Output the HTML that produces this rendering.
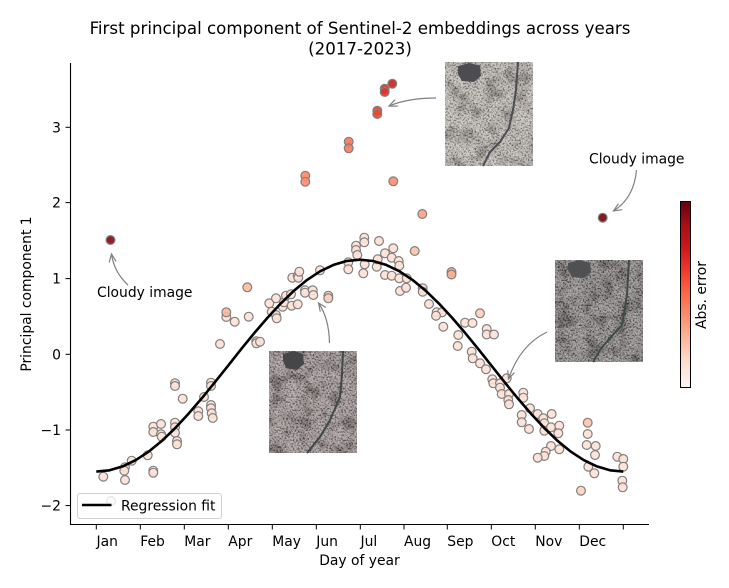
<!DOCTYPE html>
<html><head><meta charset="utf-8"><style>
html,body{margin:0;padding:0;background:#fff;}
svg{display:block;}
text{font-family:"DejaVu Sans","Liberation Sans",sans-serif;fill:#000;}
</style></head><body>
<svg width="729" height="588" viewBox="0 0 729 588" xmlns="http://www.w3.org/2000/svg">
<defs>
<linearGradient id="reds" x1="0" y1="1" x2="0" y2="0">
<stop offset="0" stop-color="#fff5f0"/><stop offset="0.125" stop-color="#fee0d2"/><stop offset="0.25" stop-color="#fcbba1"/><stop offset="0.375" stop-color="#fc9272"/><stop offset="0.5" stop-color="#fb6a4a"/><stop offset="0.625" stop-color="#ef3b2c"/><stop offset="0.75" stop-color="#cb181d"/><stop offset="0.875" stop-color="#a50f15"/><stop offset="1" stop-color="#67000d"/>
</linearGradient>
<filter id="tex" x="0" y="0" width="1" height="1" filterUnits="objectBoundingBox">
<feTurbulence type="fractalNoise" baseFrequency="0.6" numOctaves="3" seed="7"/>
<feColorMatrix type="matrix" values="3 0 0 0 -1  3 0 0 0 -1  3 0 0 0 -1  0 0 0 0 0.35"/>
</filter>
<filter id="tex2" x="0" y="0" width="1" height="1" filterUnits="objectBoundingBox">
<feTurbulence type="fractalNoise" baseFrequency="0.07" numOctaves="2" seed="3"/>
<feColorMatrix type="matrix" values="3 0 0 0 -1  3 0 0 0 -1  3 0 0 0 -1  0 0 0 0 0.25"/>
</filter>
<marker id="ah" viewBox="-10 -6 12 12" refX="0" refY="0" markerWidth="12" markerHeight="12" markerUnits="userSpaceOnUse" orient="auto">
<path d="M-8,-3.5 L0,0 L-8,3.5" fill="none" stroke="#808080" stroke-width="1.2"/>
</marker>
</defs>

<!-- title -->
<text x="360" y="34" font-size="16.67" text-anchor="middle">First principal component of Sentinel-2 embeddings across years</text>
<text x="360" y="54.5" font-size="16.67" text-anchor="middle">(2017-2023)</text>

<!-- scatter points -->
<g stroke="#808080" stroke-width="1.2" fill-opacity="0.92">
<g fill="#fee2d5">
<circle cx="111" cy="501" r="4.4"/>
<circle cx="103.3" cy="476.7" r="4.4"/>
<circle cx="125" cy="467.3" r="4.4"/><circle cx="124.3" cy="470.7" r="4.4"/><circle cx="125" cy="480" r="4.4"/>
<circle cx="131.7" cy="460.7" r="4.4"/><circle cx="147.7" cy="455.3" r="4.4"/>
<circle cx="153.3" cy="470.7" r="4.4"/><circle cx="153.3" cy="472.7" r="4.4"/>
<circle cx="153.3" cy="426.7" r="4.4"/><circle cx="153.3" cy="432" r="4.4"/><circle cx="161" cy="424" r="4.4"/><circle cx="161" cy="434.3" r="4.4"/><circle cx="161.7" cy="436.7" r="4.4"/>
<circle cx="175" cy="422.7" r="4.4"/><circle cx="175" cy="427.3" r="4.4"/><circle cx="175" cy="432.7" r="4.4"/><circle cx="177" cy="441" r="4.4"/><circle cx="177" cy="444.3" r="4.4"/>
<circle cx="175" cy="383.3" r="4.4"/><circle cx="175" cy="386" r="4.4"/>
<circle cx="182.7" cy="398.7" r="4.4"/>
<circle cx="198.3" cy="411.3" r="4.4"/><circle cx="198.3" cy="416" r="4.4"/>
<circle cx="204" cy="397" r="4.4"/>
<circle cx="211" cy="382.7" r="4.4"/><circle cx="211" cy="386" r="4.4"/>
<circle cx="211" cy="405" r="4.4"/><circle cx="211" cy="408.3" r="4.4"/><circle cx="211.7" cy="413.3" r="4.4"/><circle cx="212.7" cy="418" r="4.4"/>
<circle cx="220" cy="344" r="4.4"/>
<circle cx="226.3" cy="317" r="4.4"/><circle cx="234.7" cy="321.7" r="4.4"/><circle cx="248.7" cy="316.7" r="4.4"/>
<circle cx="256.3" cy="341.3" r="4.4"/><circle cx="256.3" cy="343.3" r="4.4"/>
<circle cx="260" cy="341.7" r="4.4"/>
<circle cx="269.3" cy="303.3" r="4.4"/><circle cx="271.7" cy="311.7" r="4.4"/><circle cx="276" cy="298.3" r="4.4"/><circle cx="276" cy="315" r="4.4"/><circle cx="276.7" cy="318.3" r="4.4"/><circle cx="282.7" cy="306.7" r="4.4"/><circle cx="284" cy="302.3" r="4.4"/><circle cx="286" cy="295.7" r="4.4"/><circle cx="291" cy="294.3" r="4.4"/><circle cx="291.7" cy="305.7" r="4.4"/><circle cx="297.7" cy="304.3" r="4.4"/>
<circle cx="292.3" cy="277.7" r="4.4"/><circle cx="297.7" cy="275.7" r="4.4"/><circle cx="298.3" cy="277.7" r="4.4"/><circle cx="299.3" cy="271.7" r="4.4"/>
<circle cx="305" cy="290.3" r="4.4"/><circle cx="305" cy="292.7" r="4.4"/><circle cx="312.7" cy="290.3" r="4.4"/><circle cx="313.3" cy="295" r="4.4"/>
<circle cx="320" cy="270.3" r="4.4"/>
<circle cx="348.3" cy="262.3" r="4.4"/><circle cx="348.3" cy="269.3" r="4.4"/>
<circle cx="356" cy="245.7" r="4.4"/><circle cx="356" cy="250" r="4.4"/><circle cx="357.3" cy="255" r="4.4"/>
<circle cx="364.3" cy="237.7" r="4.4"/><circle cx="364.3" cy="242.3" r="4.4"/>
<circle cx="364.7" cy="264.3" r="4.4"/><circle cx="363.3" cy="273.3" r="4.4"/>
<circle cx="376.7" cy="266.7" r="4.4"/><circle cx="377.7" cy="259.3" r="4.4"/>
<circle cx="379" cy="241" r="4.4"/>
<circle cx="385" cy="253.3" r="4.4"/><circle cx="385" cy="275" r="4.4"/>
<circle cx="391.7" cy="257.7" r="4.4"/><circle cx="391.7" cy="275.7" r="4.4"/>
<circle cx="393.3" cy="248.3" r="4.4"/>
<circle cx="398.7" cy="261" r="4.4"/><circle cx="399.3" cy="265.7" r="4.4"/><circle cx="399.3" cy="278.3" r="4.4"/>
<circle cx="400" cy="291" r="4.4"/><circle cx="406" cy="287.7" r="4.4"/><circle cx="406.7" cy="278.3" r="4.4"/>
<circle cx="422.7" cy="288.3" r="4.4"/><circle cx="422.7" cy="291.7" r="4.4"/>
<circle cx="429" cy="304" r="4.4"/>
<circle cx="436.7" cy="312.3" r="4.4"/><circle cx="442" cy="312.3" r="4.4"/><circle cx="436" cy="315.7" r="4.4"/>
<circle cx="443.3" cy="326.7" r="4.4"/>
<circle cx="458.3" cy="335" r="4.4"/><circle cx="457.7" cy="346" r="4.4"/>
<circle cx="465" cy="322.7" r="4.4"/><circle cx="472.5" cy="323" r="4.4"/>
<circle cx="486.7" cy="329" r="4.4"/><circle cx="486.7" cy="334.5" r="4.4"/><circle cx="494" cy="334.5" r="4.4"/>
<circle cx="471.7" cy="351.7" r="4.4"/><circle cx="472.7" cy="358.3" r="4.4"/><circle cx="480" cy="363.3" r="4.4"/><circle cx="486" cy="369.3" r="4.4"/>
<circle cx="492.3" cy="379.3" r="4.4"/><circle cx="493.3" cy="383.3" r="4.4"/><circle cx="500" cy="383.3" r="4.4"/><circle cx="506.7" cy="378.3" r="4.4"/>
<circle cx="500" cy="387.7" r="4.4"/><circle cx="501.7" cy="394" r="4.4"/><circle cx="509" cy="394" r="4.4"/><circle cx="508.3" cy="400" r="4.4"/><circle cx="509" cy="404.3" r="4.4"/>
<circle cx="523.3" cy="392.7" r="4.4"/><circle cx="523.3" cy="397.7" r="4.4"/>
<circle cx="530" cy="408.3" r="4.4"/><circle cx="521.7" cy="415" r="4.4"/><circle cx="521.7" cy="422.3" r="4.4"/><circle cx="529" cy="429" r="4.4"/>
<circle cx="537.7" cy="414" r="4.4"/><circle cx="543.3" cy="418.3" r="4.4"/><circle cx="551.7" cy="414" r="4.4"/><circle cx="544.3" cy="423.3" r="4.4"/><circle cx="544.3" cy="430.7" r="4.4"/><circle cx="551" cy="427.3" r="4.4"/><circle cx="559.3" cy="425.7" r="4.4"/><circle cx="558.3" cy="433.3" r="4.4"/>
<circle cx="551" cy="446" r="4.4"/><circle cx="559.3" cy="449.3" r="4.4"/><circle cx="545.7" cy="451.7" r="4.4"/><circle cx="544.3" cy="456" r="4.4"/><circle cx="537.7" cy="457.7" r="4.4"/>
<circle cx="587.7" cy="434" r="4.4"/><circle cx="586.7" cy="445" r="4.4"/><circle cx="595.7" cy="446" r="4.4"/><circle cx="595" cy="455" r="4.4"/>
<circle cx="588.3" cy="466.7" r="4.4"/><circle cx="594.3" cy="473.3" r="4.4"/>
<circle cx="617.3" cy="456.7" r="4.4"/><circle cx="623.3" cy="459" r="4.4"/><circle cx="623.3" cy="466.7" r="4.4"/><circle cx="622.3" cy="480.7" r="4.4"/><circle cx="622.7" cy="487.3" r="4.4"/>
</g>
<circle cx="581" cy="490.7" r="4.4" fill="#fdd3c1"/>
<circle cx="480" cy="313.3" r="4.4" fill="#fdcfbb"/>
<circle cx="226.3" cy="312.3" r="4.4" fill="#fcb69b"/>
<circle cx="247.3" cy="287.3" r="4.4" fill="#fcbaa0"/>
<circle cx="328.3" cy="295.7" r="4.4" fill="#fcc9b4"/><circle cx="328.3" cy="298.3" r="4.4" fill="#fdd0bd"/>
<circle cx="414.7" cy="251" r="4.4" fill="#fcc1a8"/>
<circle cx="451.5" cy="272" r="4.4" fill="#fcab8f"/><circle cx="451.5" cy="274.5" r="4.4" fill="#fcae92"/>
<circle cx="587.7" cy="422.7" r="4.4" fill="#fcc4ac"/>
<circle cx="422.3" cy="214" r="4.4" fill="#fca486"/>
<circle cx="393.3" cy="181.3" r="4.4" fill="#fc8e6f"/>
<circle cx="305.3" cy="175.7" r="4.4" fill="#fc8a6a"/><circle cx="305.3" cy="181.7" r="4.4" fill="#fc8d6d"/>
<circle cx="348.7" cy="141.7" r="4.4" fill="#fb7757"/><circle cx="348.7" cy="148.3" r="4.4" fill="#fb7b5b"/>
<circle cx="377.3" cy="110.7" r="4.4" fill="#ef4030"/><circle cx="377.3" cy="114" r="4.4" fill="#f04432"/>
<circle cx="384.7" cy="88.7" r="4.4" fill="#e0302a"/><circle cx="384.7" cy="92" r="4.4" fill="#e33128"/>
<circle cx="392.3" cy="83.7" r="4.4" fill="#d42121"/>
<circle cx="110.5" cy="240" r="4.4" fill="#8b0a13"/>
<circle cx="602.7" cy="217.7" r="4.4" fill="#7a0510"/>
</g>

<!-- regression curve -->
<polyline fill="none" stroke="#000" stroke-width="2.6" stroke-linejoin="round" stroke-linecap="butt"
points="96.3,471.6 109.5,470.3 122.7,466.4 135.8,460.1 149.0,451.4 162.2,440.6 175.4,427.9 188.5,413.7 201.7,398.4 214.9,382.2 228.1,365.7 241.2,349.1 254.4,332.9 267.6,317.6 280.8,303.4 293.9,290.7 307.1,279.9 320.3,271.2 333.5,264.9 346.6,261.0 359.8,259.7 373.0,261.0 386.2,264.9 399.3,271.2 412.5,279.9 425.7,290.7 438.8,303.4 452.0,317.6 465.1,332.9 478.3,349.1 491.5,365.7 504.6,382.2 517.8,398.4 531.0,413.7 544.2,427.9 557.3,440.6 570.5,451.4 583.7,460.1 596.9,466.4 610.0,470.3 623.3,471.6"/>

<!-- images -->
<g>
<rect x="445" y="62" width="88" height="104" fill="#a8a098"/>
<rect x="445" y="62" width="88" height="104" fill="#000" filter="url(#tex2)"/>
<rect x="445" y="62" width="88" height="104" fill="#000" filter="url(#tex)"/>
<path d="M458,66 L470,63 L480,66 L481,76 L474,82 L462,81 L458,74 Z" fill="#4d4c50"/>
<path d="M518,62 L516,90 L513,110 L509,128 L500,142 L490,152 L483,166" fill="none" stroke="#4a4e52" stroke-width="2"/>
</g>
<g>
<rect x="555" y="260" width="88" height="102" fill="#5f5756"/>
<rect x="555" y="260" width="88" height="102" fill="#000" filter="url(#tex2)"/>
<rect x="555" y="260" width="88" height="102" fill="#000" filter="url(#tex)"/>
<path d="M568,263 L580,260 L590,263 L591,272 L584,278 L572,277 L568,270 Z" fill="#4f5052"/>
<path d="M629,260 L627,295 L622,325 L610,338 L600,350 L593,362" fill="none" stroke="#3f4a48" stroke-width="2"/>
</g>
<g>
<rect x="269" y="351" width="88" height="102" fill="#7c6a6b"/>
<rect x="269" y="351" width="88" height="102" fill="#000" filter="url(#tex2)"/>
<rect x="269" y="351" width="88" height="102" fill="#000" filter="url(#tex)"/>
<path d="M283,354 L294,351 L303,354 L304,364 L297,370 L286,368 L283,361 Z" fill="#464548"/>
<path d="M343,351 L342,375 L340,397 L330,420 L320,437 L307,453" fill="none" stroke="#40484a" stroke-width="2"/>
</g>

<!-- annotation arrows -->
<g fill="none" stroke="#808080" stroke-width="1.2">
<path d="M128,285 Q114,272 111.5,254" marker-end="url(#ah)"/>
<path d="M636.5,170 Q634,198 613.5,211" marker-end="url(#ah)"/>
<path d="M436,98 Q408,98 389,106" marker-end="url(#ah)"/>
<path d="M329.5,343 Q329,318 318.5,303" marker-end="url(#ah)"/>
<path d="M547,332 Q520,345 508.5,379" marker-end="url(#ah)"/>
</g>
<text x="97" y="297" font-size="13.89">Cloudy image</text>
<text x="589" y="163.5" font-size="13.89">Cloudy image</text>

<!-- axes spines -->
<line x1="70.5" y1="63" x2="70.5" y2="525" stroke="#000" stroke-width="1.1"/>
<line x1="70" y1="524.5" x2="649" y2="524.5" stroke="#000" stroke-width="1.1"/>

<!-- y ticks -->
<g stroke="#000" stroke-width="1">
<line x1="65.5" y1="127.3" x2="70.5" y2="127.3"/>
<line x1="65.5" y1="202.6" x2="70.5" y2="202.6"/>
<line x1="65.5" y1="278.6" x2="70.5" y2="278.6"/>
<line x1="65.5" y1="354.3" x2="70.5" y2="354.3"/>
<line x1="65.5" y1="430" x2="70.5" y2="430"/>
<line x1="65.5" y1="505.6" x2="70.5" y2="505.6"/>
</g>
<g font-size="13.89" text-anchor="end">
<text x="61" y="132.3">3</text>
<text x="61" y="207.6">2</text>
<text x="61" y="283.6">1</text>
<text x="61" y="359.3">0</text>
<text x="61" y="435">−1</text>
<text x="61" y="510.6">−2</text>
</g>

<!-- x ticks -->
<g stroke="#000" stroke-width="1">
<line x1="96.3" y1="524.5" x2="96.3" y2="529.5"/>
<line x1="140.3" y1="524.5" x2="140.3" y2="529.5"/>
<line x1="184.3" y1="524.5" x2="184.3" y2="529.5"/>
<line x1="228.3" y1="524.5" x2="228.3" y2="529.5"/>
<line x1="272.3" y1="524.5" x2="272.3" y2="529.5"/>
<line x1="316.3" y1="524.5" x2="316.3" y2="529.5"/>
<line x1="360.3" y1="524.5" x2="360.3" y2="529.5"/>
<line x1="404" y1="524.5" x2="404" y2="529.5"/>
<line x1="447.3" y1="524.5" x2="447.3" y2="529.5"/>
<line x1="491.3" y1="524.5" x2="491.3" y2="529.5"/>
<line x1="535.3" y1="524.5" x2="535.3" y2="529.5"/>
<line x1="579.3" y1="524.5" x2="579.3" y2="529.5"/>
<line x1="623.3" y1="524.5" x2="623.3" y2="529.5"/>
</g>
<g font-size="13.89">
<text x="96.5" y="546">Jan</text>
<text x="140.3" y="546">Feb</text>
<text x="184.3" y="546">Mar</text>
<text x="228.3" y="546">Apr</text>
<text x="272.3" y="546">May</text>
<text x="316.3" y="546">Jun</text>
<text x="360.5" y="546">Jul</text>
<text x="404" y="546">Aug</text>
<text x="447.3" y="546">Sep</text>
<text x="491.3" y="546">Oct</text>
<text x="535.3" y="546">Nov</text>
<text x="579.3" y="546">Dec</text>
</g>

<!-- axis labels -->
<text x="359.5" y="565" font-size="13.89" text-anchor="middle">Day of year</text>
<text transform="translate(31,294) rotate(-90)" font-size="13.89" text-anchor="middle">Principal component 1</text>

<!-- legend -->
<rect x="77.5" y="493.5" width="144" height="25" rx="2.5" fill="#fff" fill-opacity="0.8" stroke="#d0d0d0" stroke-width="1"/>
<line x1="82" y1="505" x2="111.5" y2="505" stroke="#000" stroke-width="2.6"/>
<text x="121" y="510.5" font-size="13.89">Regression fit</text>

<!-- colorbar -->
<rect x="680.5" y="201.5" width="10" height="186" fill="url(#reds)" stroke="#000" stroke-width="1"/>
<text transform="translate(706,295) rotate(-90)" font-size="13.89" text-anchor="middle">Abs. error</text>
</svg>
</body></html>
